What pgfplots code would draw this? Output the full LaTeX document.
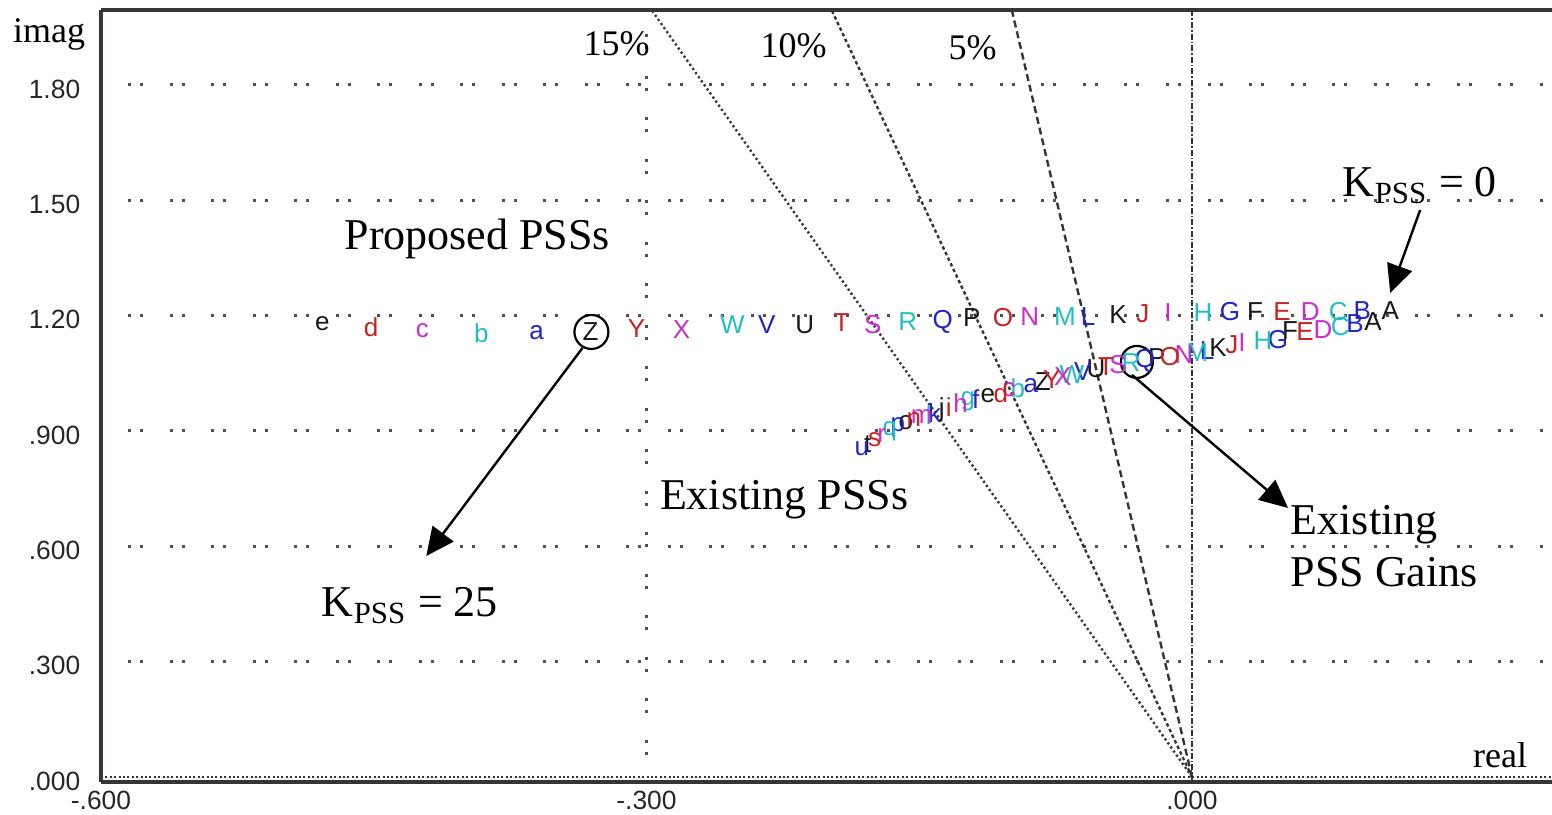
\documentclass[border=0pt]{standalone}
\usepackage{pgfplots}
\pgfplotsset{compat=1.18}
\usetikzlibrary{arrows.meta}
\usepackage{fontspec}
\setmainfont{Liberation Serif}
\newfontfamily\pixfont{Liberation Sans}
\definecolor{cK}{RGB}{25,25,25}
\definecolor{cB}{RGB}{35,35,200}
\definecolor{cC}{RGB}{35,190,195}
\definecolor{cM}{RGB}{205,45,205}
\definecolor{cR}{RGB}{200,35,35}
\definecolor{axc}{RGB}{50,55,50}
\definecolor{gridc}{RGB}{80,80,80}
\pgfplotsset{
  lett/.style={draw=none, mark=none, nodes near coords, point meta=explicit symbolic,
    nodes near coords align=center,
    every node near coord/.append style={text=#1, inner sep=0pt, font=\pixfont\fontsize{6.5}{6.5}\selectfont}},
}
\begin{document}
\begin{tikzpicture}
\begin{axis}[
  scale only axis, width=362.75pt, height=193pt,
  xmin=-0.6, xmax=0.198, ymin=-0.013, ymax=1.995,
  clip=false,
  axis x line*=bottom, axis y line*=left,
  axis line style={-, line width=0.8pt, axc},
  major tick length=0pt,
  xtick={-0.3}, xticklabels={-.300},
  extra x ticks={-0.6,0}, extra x tick labels={-.600,.000},
  extra x tick style={grid=none},
  ytick={0.3,0.6,0.9,1.2,1.5,1.8}, yticklabels={.300,.600,.900,1.20,1.50,1.80},
  extra y ticks={0}, extra y tick labels={.000}, extra y tick style={grid=none},
  xmajorgrids, ymajorgrids,
  major grid style={gridc, line width=0.75pt, dash pattern=on 0.75pt off 2.25pt on 0.75pt off 6.63pt, dash phase=3.63pt},
  tick label style={font=\pixfont\fontsize{6.6}{7}\selectfont, text=black!85},
  xticklabel style={inner sep=2pt},
  yticklabel style={inner sep=2pt, xshift=-3pt, yshift=-1pt},
]
% top border
\draw[axc, line width=0.8pt] (rel axis cs:0,1) -- (rel axis cs:1,1);
% zero lines
\addplot[axc, line width=0.6pt, dash pattern=on 0.5pt off 0.6pt] coordinates {(-0.6,0) (0.198,0)};
\addplot[axc, line width=0.5pt, dash pattern=on 1.5pt off 0.5pt on 0.4pt off 0.5pt] coordinates {(0,-0.013) (0,1.995)};
% damping lines
\addplot[axc, line width=0.6pt, dash pattern=on 0.55pt off 0.7pt] coordinates {(0,0) (-0.2972,1.995)};
\addplot[axc, line width=0.6pt, dash pattern=on 0.85pt off 0.7pt] coordinates {(0,0) (-0.1982,1.995)};
\addplot[axc, line width=0.6pt, dash pattern=on 1.75pt off 1pt] coordinates {(0,0) (-0.0991,1.995)};
% proposed PSSs
\addplot[lett=cK] table[meta=l] {
x y l
0.1090 1.213 A
0.0347 1.210 F
-0.0407 1.202 K
-0.1211 1.194 P
-0.2130 1.176 U
-0.3308 1.158 Z
-0.4783 1.179 e
};
\addplot[lett=cB] table[meta=l] {
x y l
0.0936 1.213 B
0.0209 1.210 G
-0.0572 1.197 L
-0.1371 1.184 Q
-0.2339 1.176 V
-0.3605 1.155 a
};
\addplot[lett=cC] table[meta=l] {
x y l
0.0804 1.210 C
0.0061 1.207 H
-0.0699 1.197 M
-0.1563 1.184 R
-0.2527 1.176 W
-0.3908 1.155 b
};
\addplot[lett=cM] table[meta=l] {
x y l
0.0650 1.210 D
-0.0132 1.207 I
-0.0892 1.197 N
-0.1756 1.176 S
-0.2807 1.163 X
-0.4233 1.160 c
};
\addplot[lett=cR] table[meta=l] {
x y l
0.0495 1.210 E
-0.0270 1.204 J
-0.1040 1.194 O
-0.1927 1.181 T
-0.3055 1.166 Y
-0.4514 1.171 d
};
% existing PSSs
\addplot[lett=cK] table[meta=l] {
x y l
0.0996 1.1837 A
0.0539 1.1603 F
0.0143 1.1160 K
-0.0193 1.0900 P
-0.0528 1.0614 U
-0.0820 1.0276 Z
-0.1123 0.9912 e
-0.1376 0.9547 j
-0.1574 0.9209 o
-0.1783 0.8663 t
};
\addplot[lett=cB] table[meta=l] {
x y l
0.0897 1.1785 B
0.0473 1.1368 G
0.0083 1.1082 L
-0.0259 1.0822 Q
-0.0600 1.0536 V
-0.0886 1.0172 a
-0.1189 0.9834 f
-0.1415 0.9469 k
-0.1618 0.9105 p
-0.1816 0.8533 u
};
\addplot[lett=cC] table[meta=l] {
x y l
0.0815 1.1707 C
0.0391 1.1342 H
0.0028 1.1030 M
-0.0336 1.0770 R
-0.0661 1.0458 W
-0.0958 1.0120 b
-0.1233 0.9782 g
-0.1448 0.9417 l
-0.1662 0.9001 q
};
\addplot[lett=cM] table[meta=l] {
x y l
0.0721 1.1629 D
0.0275 1.1290 I
-0.0044 1.0978 N
-0.0407 1.0718 S
-0.0710 1.0406 X
-0.1007 1.0068 c
-0.1272 0.9729 h
-0.1486 0.9365 m
-0.1706 0.8871 r
};
\addplot[lett=cR] table[meta=l] {
x y l
0.0622 1.1576 E
0.0220 1.1238 J
-0.0121 1.0926 O
-0.0473 1.0666 T
-0.0771 1.0328 Y
-0.1051 0.9990 d
-0.1338 0.9625 i
-0.1530 0.9287 n
-0.1745 0.8767 s
};
% annotations
\node[font=\fontsize{9}{10}\selectfont] at (axis cs:-0.6286,1.9303) {imag};
\node[font=\fontsize{9}{10}\selectfont] at (axis cs:0.1695,0.0572) {real};
\node[font=\fontsize{9}{10}\selectfont] at (axis cs:-0.3165,1.9069) {15\%};
\node[font=\fontsize{9}{10}\selectfont] at (axis cs:-0.2191,1.9016) {10\%};
\node[font=\fontsize{9}{10}\selectfont] at (axis cs:-0.1206,1.8965) {5\%};
\node[font=\fontsize{11}{13}\selectfont, anchor=base] at (axis cs:-0.3930,1.3710) {Proposed PSSs};
\node[font=\fontsize{11}{13}\selectfont, anchor=base] at (axis cs:-0.2243,0.6946) {Existing PSSs};
\node[font=\fontsize{11}{13}\selectfont, anchor=base west, inner sep=0pt] at (axis cs:-0.4789,0.4162) {K\textsubscript{PSS} = 25};
\node[font=\fontsize{11}{13}\selectfont, anchor=base west, inner sep=0pt] at (axis cs:0.0826,1.5088) {K\textsubscript{PSS} = 0};
\node[font=\fontsize{11}{13}\selectfont, anchor=base west, inner sep=0pt] at (axis cs:0.0539,0.6296) {Existing};
\node[font=\fontsize{11}{13}\selectfont, anchor=base west, inner sep=0pt] at (axis cs:0.0539,0.4943) {PSS Gains};
\draw[black, line width=0.55pt] (axis cs:-0.3303,1.1576) circle[radius=4.25pt];
\draw[black, line width=0.55pt] (axis cs:-0.0303,1.0796) circle[radius=4pt];
\draw[black, line width=0.6pt, -{Triangle[length=7pt,width=6.5pt]}] (axis cs:0.1255,1.4750) -- (axis cs:0.1090,1.2591);
\draw[black, line width=0.6pt, -{Triangle[length=7pt,width=6.5pt]}] (axis cs:-0.3352,1.1160) -- (axis cs:-0.4211,0.5749);
\draw[black, line width=0.6pt, -{Triangle[length=7pt,width=6.5pt]}] (axis cs:-0.0330,1.0458) -- (axis cs:0.0528,0.6998);
\end{axis}
\pgfresetboundingbox
\path[use as bounding box] ([xshift=-25.25pt,yshift=-8pt]current axis.south west) rectangle ([yshift=2.5pt]current axis.north east);
\end{tikzpicture}
\end{document}
